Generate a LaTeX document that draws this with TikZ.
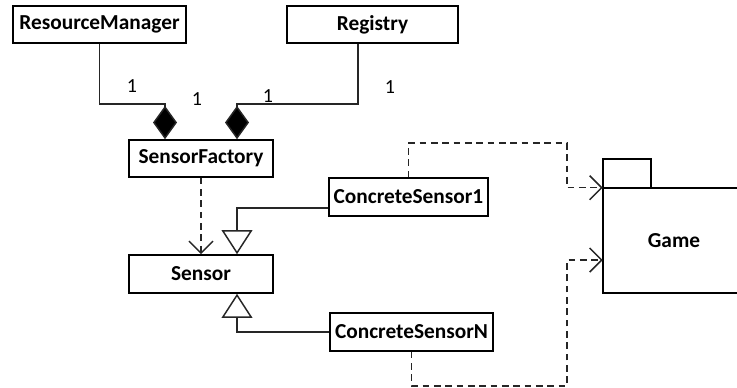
\documentclass[tikz,border=0pt]{standalone}
\usepackage{fontspec}
\setmainfont{Carlito}
\usetikzlibrary{arrows.meta}
\begin{document}
\begin{tikzpicture}[x=0.75pt,y=-0.75pt,
  cls/.style={draw=black,line width=1.2pt,fill=white,inner sep=0pt,font=\fontsize{16}{18}\selectfont\bfseries},
  conn/.style={draw=black!85,line width=1.1pt},
  comp/.style={conn,-{Diamond[fill=black,length=25pt,width=18pt]}},
  gen/.style={conn,-{Triangle[open,fill=white,length=18pt,width=23pt]}},
  dep/.style={conn,dash pattern=on 5pt off 3.5pt,-{Straight Barb[length=9pt,width=18pt]}},
  mult/.style={font=\fontsize{15}{17}\selectfont}]
\useasboundingbox (0,0) rectangle (737,387);
\node[cls,minimum width=173*0.75pt,minimum height=37*0.75pt] (RM) at (99.5,24.5) {ResourceManager};
\node[cls,minimum width=171*0.75pt,minimum height=37*0.75pt] (Reg) at (372.5,24.5) {Registry};
\node[cls,minimum width=144*0.75pt,minimum height=37*0.75pt] (SF) at (201,158.5) {SensorFactory};
\node[cls,minimum width=144*0.75pt,minimum height=38*0.75pt] (S) at (201,274) {Sensor};
\node[cls,minimum width=159*0.75pt,minimum height=38*0.75pt] (CS1) at (408.5,197) {ConcreteSensor1};
\node[cls,minimum width=163*0.75pt,minimum height=38*0.75pt] (CSN) at (411.5,332) {ConcreteSensorN};
% Game package
\node[draw=black,line width=1.2pt,minimum width=48*0.75pt,minimum height=29*0.75pt,inner sep=0pt] (GT) at (627,173.5) {};
\node[minimum width=134*0.75pt,minimum height=105*0.75pt,inner sep=0pt] (GB) at (670,240.5) {};
\draw[draw=black,line width=1.2pt] (GB.north east) -- (GB.north west) -- (GB.south west) -- (GB.south east);
\node[font=\fontsize{16}{18}\selectfont\bfseries] (GL) at (674,241) {Game};
% compositions
\coordinate (j1) at (165,104);
\coordinate (j2) at (237,104);
\coordinate (j2r) at (358,104);
\draw[comp] (RM.south) |- (j1) -- (j1 |- SF.north);
\draw[comp] (Reg.south -| j2r) -- (j2r) -- (j2) -- (j2 |- SF.north);
\node[mult] (m1) at (132,86) {1};
\node[mult] (m2) at (197,99) {1};
\node[mult] (m3) at (268,96) {1};
\node[mult] (m4) at (390,87) {1};
% dependency SF -> Sensor
\draw[dep] (SF.south) -- (S.north);
% generalizations
\coordinate (t1) at (237,208);
\coordinate (t2) at (237,332);
\draw[gen] (CS1.west |- t1) -- (t1) -- (t1 |- S.north);
\draw[gen] (CSN.west |- t2) -- (t2) -- (t2 |- S.south);
% dependencies to Game
\coordinate (g1) at (567,143);
\coordinate (g2) at (567,386);
\coordinate (g3) at (567,260);
\draw[dep] (CS1.north) |- (g1) |- (GB.north west);
\draw[dep] (CSN.south) |- (g2) -- (g3) -- (g3 -| GB.west);
\end{tikzpicture}
\end{document}
